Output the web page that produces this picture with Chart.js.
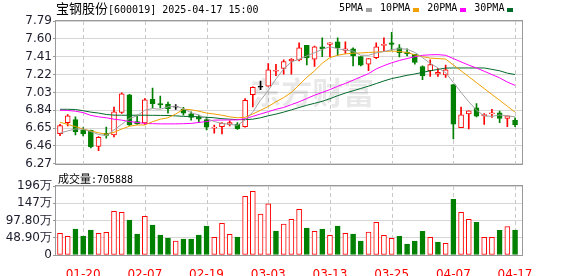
<!DOCTYPE html>
<html>
<head>
<meta charset="utf-8">
<script src="https://cdn.jsdelivr.net/npm/chart.js@4.4.1/dist/chart.umd.min.js"></script>
<style>
body{margin:0;background:#fff;width:578px;height:276px;position:relative;overflow:hidden;}
#priceBox{position:absolute;left:0;top:0;width:578px;height:172px;}
#volBox{position:absolute;left:0;top:170px;width:578px;height:106px;}
.txt{position:absolute;white-space:pre;color:#000;font-family:'DejaVu Sans Mono',monospace;font-size:10px;line-height:14px;}
.cjk{font-family:'Noto Sans CJK SC',sans-serif;}
#title{left:56px;top:1px;}
#title .cjk{font-size:13px;}
#volTitle{left:58px;top:171px;}
#volTitle .cjk{font-size:11px;}
#legend{left:339px;top:1px;display:flex;align-items:center;}
#legend .box{display:inline-block;width:6px;height:4px;margin:3px 8px 0 3px;}
</style>
</head>
<body>
<div id="priceBox"><canvas id="priceChart"></canvas></div>
<div id="volBox"><canvas id="volChart"></canvas></div>
<div id="title" class="txt"><span class="cjk">宝钢股份</span>[600019] 2025-04-17 15:00</div>
<div id="legend" class="txt"></div>
<div id="volTitle" class="txt"><span class="cjk">成交量</span>:705888</div>
<script>
var dates = ['01-15','01-16','01-17','01-20','01-21','01-22','01-23','01-24','01-27','02-05',
  '02-06','02-07','02-10','02-11','02-12','02-13','02-14','02-17','02-18','02-19',
  '02-20','02-21','02-24','02-25','02-26','02-27','02-28','03-03','03-04','03-05',
  '03-06','03-07','03-10','03-11','03-12','03-13','03-14','03-17','03-18','03-19',
  '03-20','03-21','03-24','03-25','03-26','03-27','03-28','03-31','04-01','04-02',
  '04-03','04-07','04-08','04-09','04-10','04-11','04-14','04-15','04-16','04-17'];
var xTickLabels = ['01-20','02-07','02-19','03-03','03-13','03-25','04-07','04-17'];

var opens = [6.59,6.708,6.74,6.627,6.627,6.456,6.595,6.578,6.816,7.005,
  6.72,6.704,6.956,6.91,6.907,6.872,6.851,6.802,6.767,6.74,
  6.648,6.666,6.69,6.69,6.666,7.005,7.085,7.096,7.255,7.285,
  7.366,7.376,7.53,7.383,7.516,7.54,7.568,7.477,7.495,7.41,
  7.33,7.40,7.53,7.558,7.505,7.46,7.436,7.306,7.26,7.225,
  7.215,7.113,6.655,6.80,6.865,6.78,6.80,6.812,6.753,6.735];
var highs = [6.69,6.795,6.77,6.655,6.63,6.56,6.66,6.875,7.026,7.01,
  6.788,6.963,7.075,6.99,6.928,6.90,6.872,6.823,6.788,6.767,
  6.683,6.708,6.728,6.71,6.963,7.09,7.15,7.337,7.33,7.376,
  7.39,7.558,7.53,7.523,7.61,7.558,7.61,7.568,7.505,7.41,
  7.39,7.558,7.61,7.67,7.54,7.495,7.436,7.313,7.376,7.285,
  7.32,7.113,6.875,6.833,6.91,6.805,6.85,6.83,6.78,6.76];
var lows = [6.57,6.673,6.578,6.567,6.44,6.41,6.543,6.557,6.805,6.676,
  6.69,6.69,6.865,6.865,6.81,6.85,6.788,6.735,6.708,6.63,
  6.595,6.588,6.673,6.637,6.659,6.875,7.058,7.096,7.208,7.225,
  7.225,7.366,7.323,7.306,7.41,7.41,7.425,7.446,7.313,7.313,
  7.26,7.39,7.47,7.48,7.407,7.418,7.33,7.166,7.20,7.20,
  7.19,6.536,6.655,6.641,6.77,6.69,6.763,6.708,6.666,6.666];
var closes = [6.676,6.78,6.613,6.588,6.452,6.553,6.571,6.823,7.015,6.683,
  6.697,6.952,6.91,6.897,6.858,6.872,6.809,6.763,6.746,6.66,
  6.662,6.70,6.708,6.645,6.946,7.085,7.085,7.27,7.265,7.358,
  7.383,7.505,7.397,7.516,7.495,7.558,7.505,7.495,7.418,7.32,
  7.39,7.516,7.54,7.54,7.453,7.44,7.348,7.208,7.327,7.243,
  7.27,6.693,6.79,6.833,6.778,6.795,6.812,6.753,6.78,6.683];

var ma5 = [6.596,6.62,6.641,6.638,6.613,6.582,6.571,6.631,6.69,6.753,
  6.781,6.841,6.858,6.851,6.876,6.883,6.858,6.813,6.788,6.753,
  6.72,6.70,6.69,6.68,6.736,6.823,6.946,7.05,7.173,7.278,
  7.355,7.383,7.418,7.453,7.488,7.516,7.495,7.48,7.47,7.425,
  7.425,7.45,7.465,7.485,7.495,7.49,7.455,7.40,7.34,7.29,
  7.24,7.136,7.03,6.93,6.84,6.78,6.775,6.79,6.78,6.77];
var ma10 = [6.711,6.69,6.666,6.64,6.62,6.60,6.585,6.605,6.64,6.67,
  6.683,6.683,6.718,6.745,6.76,6.80,6.851,6.845,6.83,6.81,
  6.80,6.787,6.77,6.76,6.765,6.80,6.84,6.88,6.93,6.975,
  7.03,7.11,7.19,7.26,7.34,7.40,7.425,7.44,7.447,7.45,
  7.455,7.46,7.465,7.47,7.465,7.455,7.43,7.41,7.395,7.39,
  7.385,7.322,7.26,7.197,7.134,7.071,7.008,6.946,6.883,6.82];
var ma20 = [6.84,6.838,6.83,6.815,6.785,6.77,6.76,6.745,6.735,6.72,
  6.71,6.70,6.697,6.695,6.695,6.695,6.697,6.70,6.71,6.72,
  6.735,6.736,6.737,6.738,6.75,6.775,6.80,6.825,6.85,6.87,
  6.90,6.93,6.965,7.00,7.03,7.06,7.095,7.125,7.16,7.195,
  7.23,7.28,7.315,7.345,7.37,7.39,7.41,7.425,7.43,7.432,
  7.425,7.39,7.355,7.32,7.29,7.255,7.22,7.185,7.14,7.105];
var ma30 = [6.85,6.85,6.848,6.835,6.82,6.81,6.795,6.788,6.787,6.787,
  6.787,6.787,6.786,6.785,6.784,6.78,6.775,6.773,6.77,6.765,
  6.76,6.75,6.745,6.74,6.74,6.745,6.76,6.781,6.799,6.82,
  6.844,6.869,6.893,6.914,6.935,6.963,6.995,7.023,7.047,7.072,
  7.096,7.124,7.152,7.177,7.194,7.212,7.226,7.243,7.26,7.275,
  7.289,7.29,7.29,7.29,7.29,7.29,7.275,7.26,7.235,7.22];

// volume in 万
var volumes = [61.6,53,73.9,54,71,61.6,64.4,124,121,99.4,
  59.7,110,85.2,56.8,48.3,39.8,45.5,45.5,56.8,82.4,
  50.2,90,58.7,51.1,166.7,180.9,116.5,145,68.2,88,
  101,129.7,76.7,67.2,73.9,55.9,82.4,61.6,59.7,39.8,
  65.3,92.8,55.9,47.3,53,31.2,39.8,67.2,50.2,36.9,
  33.1,158,121,101,92.8,50.2,50.2,70,80.5,70.59];
var volUp = [1,1,0,0,0,1,1,1,1,0,
  0,1,0,0,0,1,0,0,0,0,
  1,1,1,0,1,1,1,1,0,1,
  1,1,0,1,0,1,0,1,0,0,
  1,1,1,1,0,0,0,0,1,0,
  1,0,1,1,0,1,1,0,1,0];

var priceTicks = [6.27,6.46,6.65,6.84,7.03,7.22,7.41,7.60,7.79];
var volTicks = [0,48.9,97.8,147,196];
var volTickLabels = ['0','48.90万','97.80万','147万','196万'];

var maNames = ['5PMA','10PMA','20PMA','30PMA'];
var maColors = ['#a0a0a0','#f0a000','#ff00ff','#006a2a'];

var UP = '#ff0000', DOWN = '#008000', FLAT = '#000000';
var idx = dates.map(function(d,i){ return i; });
var tickIdx = xTickLabels.map(function(l){ return dates.indexOf(l); });

function candleColor(i){
  if(closes[i] > opens[i]) return UP;
  if(closes[i] < opens[i]) return DOWN;
  return FLAT;
}

// legend
var legend = document.getElementById('legend');
maNames.forEach(function(n,i){
  var t = document.createElement('span'); t.textContent = n; legend.appendChild(t);
  var b = document.createElement('span'); b.className = 'box'; b.style.background = maColors[i]; legend.appendChild(b);
});

Chart.defaults.font.family = "'DejaVu Sans', sans-serif";
Chart.defaults.font.size = 12;
Chart.defaults.animation = false;

// plot frame plus the dashed date lines, placed through the x scale
var frame = {
  id: 'frame',
  beforeDatasetsDraw: function(c){
    var a = c.chartArea, ctx = c.ctx, xs = c.scales.x;
    ctx.save();
    ctx.strokeStyle = '#c8c8c8';
    ctx.lineWidth = 1;
    ctx.setLineDash([4,3]);
    tickIdx.forEach(function(v){
      var px = Math.round(xs.getPixelForValue(v)) + 0.5;
      ctx.beginPath();
      ctx.moveTo(px, a.top);
      ctx.lineTo(px, a.bottom);
      ctx.stroke();
    });
    ctx.restore();
  },
  afterDraw: function(c){
    var a = c.chartArea, ctx = c.ctx;
    ctx.save();
    ctx.strokeStyle = '#999';
    ctx.lineWidth = 1;
    ctx.strokeRect(Math.round(a.left) - 0.5, Math.round(a.top) - 0.5, Math.round(a.right - a.left) + 1, Math.round(a.bottom - a.top) + 1);
    ctx.restore();
  }
};
var watermark = {
  id: 'watermark',
  beforeDatasetsDraw: function(c){
    var a = c.chartArea, ctx = c.ctx;
    ctx.save();
    ctx.fillStyle = 'rgba(0,0,0,0.09)';
    ctx.font = "bold 31px 'Noto Sans CJK SC'";
    ctx.textAlign = 'center';
    ctx.textBaseline = 'middle';
    ctx.fillText('东方财富', a.left + a.width * 0.55, a.top + a.height * 0.5);
    ctx.restore();
  }
};

function xAxis(showLabels){
  return {
    type: 'linear', min: -0.52, max: 59.9, bounds: 'data', offset: false,
    afterBuildTicks: function(s){ s.ticks = tickIdx.map(function(v){ return {value: v}; }); },
    ticks: {display: showLabels, color: '#ff0000', padding: 5, maxRotation: 0, autoSkip: false,
      callback: function(v){ return dates[v]; }},
    grid: {display: false},
    border: {display: false},
    afterFit: function(s){ s.height = showLabels ? 21 : 0; }
  };
}

function maSet(arr, k){
  return {type: 'line', data: idx.map(function(i){ return {x: i, y: arr[i]}; }),
    borderColor: maColors[k], borderWidth: 1, pointRadius: 0, tension: 0, order: 1};
}

new Chart(document.getElementById('priceChart'), {
  type: 'bar',
  data: {
    datasets: [
      maSet(ma5,0), maSet(ma10,1), maSet(ma20,2), maSet(ma30,3),
      {
        data: idx.map(function(i){ return {x: i, y: [opens[i], closes[i]]}; }),
        backgroundColor: idx.map(function(i){ return closes[i] > opens[i] ? '#ffffff' : candleColor(i); }),
        borderColor: idx.map(candleColor),
        borderWidth: 1, borderSkipped: false, barThickness: 5, minBarLength: 1,
        grouped: false, order: 2
      },
      {
        data: idx.map(function(i){ return {x: i, y: [lows[i], highs[i]]}; }),
        backgroundColor: idx.map(candleColor),
        borderWidth: 0, barThickness: 1, grouped: false, order: 3
      }
    ]
  },
  options: {
    responsive: true, maintainAspectRatio: false, devicePixelRatio: 1,
    layout: {padding: {left: 0, right: 56, top: 21, bottom: 7}},
    plugins: {legend: {display: false}, tooltip: {enabled: false}},
    scales: {
      x: xAxis(false),
      y: {
        min: 6.27, max: 7.79, bounds: 'data',
        afterBuildTicks: function(s){ s.ticks = priceTicks.map(function(v){ return {value: v}; }); },
        ticks: {color: '#1c1c2c', padding: 1, autoSkip: false, callback: function(v){ return v.toFixed(2); }},
        grid: {color: '#d6d6d6', tickLength: 3, tickColor: '#999'},
        border: {display: false},
        afterFit: function(s){ s.width = 56; }
      }
    }
  },
  plugins: [frame, watermark]
});

new Chart(document.getElementById('volChart'), {
  type: 'bar',
  data: {
    datasets: [{
      data: idx.map(function(i){ return {x: i, y: volumes[i]}; }),
      backgroundColor: idx.map(function(i){ return volUp[i] ? '#ffffff' : DOWN; }),
      borderColor: idx.map(function(i){ return volUp[i] ? UP : DOWN; }),
      borderWidth: 1, borderSkipped: false, barThickness: 5, grouped: false
    }]
  },
  options: {
    responsive: true, maintainAspectRatio: false, devicePixelRatio: 1,
    layout: {padding: {left: 0, right: 56, top: 16, bottom: 0}},
    plugins: {legend: {display: false}, tooltip: {enabled: false}},
    scales: {
      x: xAxis(true),
      y: {
        min: 0, max: 196, bounds: 'data',
        afterBuildTicks: function(s){ s.ticks = volTicks.map(function(v){ return {value: v}; }); },
        ticks: {color: '#1c1c2c', padding: 1, autoSkip: false, callback: function(v){ return volTickLabels[volTicks.indexOf(v)]; }},
        grid: {color: '#d6d6d6', tickLength: 3, tickColor: '#999'},
        border: {display: false},
        afterFit: function(s){ s.width = 56; }
      }
    }
  },
  plugins: [frame]
});
</script>
</body>
</html>
